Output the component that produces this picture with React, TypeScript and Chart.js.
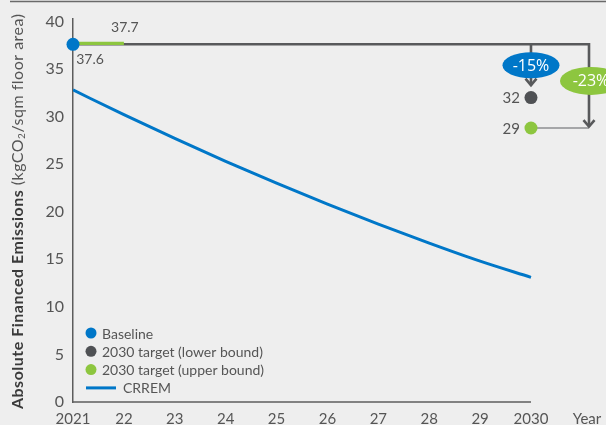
import React, { useEffect, useRef } from "react";
import { Chart, registerables } from "chart.js";

Chart.register(...registerables);

// ---- data ----
const years = [2021, 2022, 2023, 2024, 2025, 2026, 2027, 2028, 2029, 2030];
const crremValues = [32.8, 30.2, 27.7, 25.3, 23.0, 20.8, 18.7, 16.7, 14.8, 13.1];
const baselineYear = 2021;
const baselineValue = 37.6;
const baselineAltValue = 37.7;
const baselineAltEndYear = 2022;
const targetYear = 2030;
const lowerBoundTarget = 32;
const upperBoundTarget = 28.8;
const valueLabels = ["37.7", "37.6", "32", "29"];
const reductionLabels = ["-15%", "-23%"];
const yTickValues = [0, 5, 10, 15, 20, 25, 30, 35, 40];
const legendLabels = ["Baseline", "2030 target (lower bound)", "2030 target (upper bound)", "CRREM"];
const xAxisLabel = "Year";
const yTitleBold = "Absolute Financed Emissions ";
const yTitleA = "(kgCO";
const yTitleSub = "2";
const yTitleB = "/sqm floor area)";

// ---- style ----
const BLUE = "#0077c8";
const GREEN = "#8dc63f";
const DARK = "#4f5154";
const CONNECT = "#58595b";
const THIN = "#8d8e90";
const TEXT = "#555555";
const AXIS = "#5c5c5c";
const FONT = "Lato, 'Open Sans', sans-serif";
const bracketX = 2031.14;

const overlayPlugin = {
  id: "overlay",
  beforeDatasetsDraw(chart: any) {
    const ctx = chart.ctx;
    const xs = chart.scales.x;
    const area = chart.chartArea;
    ctx.save();
    ctx.strokeStyle = AXIS;
    ctx.lineWidth = 1.5;
    ctx.beginPath();
    ctx.moveTo(area.left, area.bottom);
    ctx.lineTo(xs.getPixelForValue(years[years.length - 1]), area.bottom);
    ctx.stroke();
    ctx.restore();
  },
  afterDatasetsDraw(chart: any) {
    const ctx = chart.ctx;
    const xs = chart.scales.x;
    const ys = chart.scales.y;
    chart.data.datasets.forEach((ds: any, i: number) => {
      if (!ds.arrowEnd) return;
      const meta = chart.getDatasetMeta(i);
      const pt = meta.data[meta.data.length - 1];
      ctx.save();
      ctx.strokeStyle = ds.borderColor;
      ctx.lineWidth = 2.6;
      ctx.lineJoin = "miter";
      ctx.beginPath();
      ctx.moveTo(pt.x - 5.5, pt.y - 6.5);
      ctx.lineTo(pt.x, pt.y);
      ctx.lineTo(pt.x + 5.5, pt.y - 6.5);
      ctx.stroke();
      ctx.restore();
    });

    ctx.save();
    ctx.fillStyle = TEXT;
    ctx.textBaseline = "middle";
    ctx.font = `14px ${FONT}`;
    ctx.textAlign = "center";
    ctx.fillText(valueLabels[0], xs.getPixelForValue(baselineAltEndYear) + 1, ys.getPixelForValue(baselineAltValue) - 16);
    ctx.fillText(valueLabels[1], xs.getPixelForValue(baselineYear) + 17, ys.getPixelForValue(baselineValue) + 15);
    ctx.font = `15px ${FONT}`;
    ctx.textAlign = "right";
    ctx.fillText(valueLabels[2], xs.getPixelForValue(targetYear) - 11, ys.getPixelForValue(lowerBoundTarget) + 1);
    ctx.fillText(valueLabels[3], xs.getPixelForValue(targetYear) - 11, ys.getPixelForValue(upperBoundTarget) + 1);

    const ell = (cx: number, cy: number, rx: number, ry: number, color: string, text: string) => {
      ctx.beginPath();
      ctx.ellipse(cx, cy, rx, ry, 0, 0, Math.PI * 2);
      ctx.fillStyle = color;
      ctx.fill();
      ctx.fillStyle = "#ffffff";
      ctx.font = `16px 'Open Sans', sans-serif`;
      ctx.textAlign = "center";
      ctx.fillText(text, cx, cy + 1);
    };
    ell(xs.getPixelForValue(targetYear), ys.getPixelForValue(35.4), 28.5, 13, BLUE, reductionLabels[0]);
    ell(xs.getPixelForValue(bracketX) + 2, ys.getPixelForValue(33.75), 31, 14, GREEN, reductionLabels[1]);
    ctx.restore();
  },
  afterDraw(chart: any) {
    const ctx = chart.ctx;
    const area = chart.chartArea;
    const xs = chart.scales.x;
    ctx.save();
    ctx.strokeStyle = "#6a6a6a";
    ctx.lineWidth = 1.5;
    ctx.beginPath();
    ctx.moveTo(10, 1.5);
    ctx.lineTo(chart.width, 1.5);
    ctx.stroke();

    ctx.fillStyle = TEXT;
    ctx.font = `15px ${FONT}`;
    ctx.textAlign = "center";
    ctx.textBaseline = "middle";
    ctx.fillText(xAxisLabel, xs.getPixelForValue(bracketX) - 2, area.bottom + 17);

    const lx = area.left + 18;
    const ly = area.bottom - 69;
    const step = 18.3;
    const colors = [BLUE, DARK, GREEN];
    ctx.font = `14px ${FONT}`;
    ctx.textAlign = "left";
    legendLabels.forEach((lab, i) => {
      const y = ly + i * step;
      if (i < 3) {
        ctx.beginPath();
        ctx.arc(lx, y, 5.5, 0, Math.PI * 2);
        ctx.fillStyle = colors[i];
        ctx.fill();
        ctx.fillStyle = TEXT;
        ctx.fillText(lab, lx + 11, y + 1);
      } else {
        ctx.strokeStyle = BLUE;
        ctx.lineWidth = 3;
        ctx.beginPath();
        ctx.moveTo(lx - 5, y);
        ctx.lineTo(lx + 25, y);
        ctx.stroke();
        ctx.fillStyle = TEXT;
        ctx.fillText(lab, lx + 32, y + 1);
      }
    });

    ctx.translate(18, (area.top + area.bottom) / 2 + 1);
    ctx.rotate(-Math.PI / 2);
    ctx.textBaseline = "middle";
    ctx.textAlign = "left";
    try { (ctx as any).letterSpacing = "0.5px"; } catch (e) {}
    const bold = `bold 16px ${FONT}`;
    const norm = `16px ${FONT}`;
    const sub = `10px ${FONT}`;
    ctx.font = bold;
    const w1 = ctx.measureText(yTitleBold).width;
    ctx.font = norm;
    const w2 = ctx.measureText(yTitleA).width;
    const w4 = ctx.measureText(yTitleB).width;
    ctx.font = sub;
    const w3 = ctx.measureText(yTitleSub).width;
    let x = -(w1 + w2 + w3 + w4) / 2;
    ctx.fillStyle = "#3a3a3a";
    ctx.font = bold;
    ctx.fillText(yTitleBold, x, 0);
    x += w1;
    ctx.fillStyle = TEXT;
    ctx.font = norm;
    ctx.fillText(yTitleA, x, 0);
    x += w2;
    ctx.font = sub;
    ctx.fillText(yTitleSub, x, 4);
    x += w3;
    ctx.font = norm;
    ctx.fillText(yTitleB, x, 0);
    ctx.restore();
  },
};

export default function App() {
  const ref = useRef<HTMLCanvasElement>(null);
  useEffect(() => {
    if (!ref.current) return;
    const chart = new Chart(ref.current, {
      type: "line",
      data: {
        datasets: [
          {
            label: legendLabels[0],
            data: [{ x: baselineYear, y: baselineValue }],
            showLine: false,
            pointRadius: 6.5,
            pointBorderWidth: 0,
            pointBackgroundColor: BLUE,
            clip: false,
          },
          {
            label: legendLabels[1],
            data: [{ x: targetYear, y: lowerBoundTarget }],
            showLine: false,
            pointRadius: 6.5,
            pointBorderWidth: 0,
            pointBackgroundColor: DARK,
            clip: false,
          },
          {
            label: legendLabels[2],
            data: [{ x: targetYear, y: upperBoundTarget }],
            showLine: false,
            pointRadius: 6.5,
            pointBorderWidth: 0,
            pointBackgroundColor: GREEN,
            clip: false,
          },
          {
            label: "alt baseline",
            data: [
              { x: baselineYear, y: baselineAltValue },
              { x: baselineAltEndYear, y: baselineAltValue },
            ],
            borderColor: GREEN,
            borderWidth: 3.2,
            pointRadius: 0,
            clip: false,
          },
          {
            label: "upper link",
            data: [
              { x: targetYear, y: upperBoundTarget },
              { x: bracketX, y: upperBoundTarget },
            ],
            borderColor: THIN,
            borderWidth: 1.5,
            pointRadius: 0,
            clip: false,
          },
          {
            label: "lower branch",
            data: [
              { x: targetYear, y: baselineValue },
              { x: targetYear, y: 33.3 },
            ],
            borderColor: CONNECT,
            borderWidth: 2.6,
            pointRadius: 0,
            clip: false,
            arrowEnd: true,
          } as any,
          {
            label: "bracket",
            data: [
              { x: baselineYear, y: baselineValue },
              { x: bracketX, y: baselineValue },
              { x: bracketX, y: upperBoundTarget + 0.15 },
            ],
            borderColor: CONNECT,
            borderWidth: 2.6,
            borderJoinStyle: "miter",
            pointRadius: 0,
            clip: false,
            arrowEnd: true,
          } as any,
          {
            label: legendLabels[3],
            data: years.map((yr, i) => ({ x: yr, y: crremValues[i] })),
            borderColor: BLUE,
            borderWidth: 3,
            pointRadius: 0,
            cubicInterpolationMode: "monotone",
          },
        ],
      },
      options: {
        animation: false,
        responsive: false,
        events: [],
        layout: { padding: { top: 18, right: 17, left: 0, bottom: 0 } },
        plugins: { legend: { display: false }, tooltip: { enabled: false } },
        scales: {
          x: {
            type: "linear",
            min: years[0],
            max: bracketX,
            grid: { display: false, drawTicks: false },
            border: { display: false },
            afterBuildTicks: (s: any) => {
              s.ticks = years.map((v) => ({ value: v }));
            },
            afterFit: (s: any) => {
              s.height = 23;
            },
            ticks: {
              color: TEXT,
              padding: 8,
              maxRotation: 0,
              autoSkip: false,
              font: { family: FONT, size: 15 },
              callback: (v: any) => {
                const n = Number(v);
                return n === years[0] || n === years[years.length - 1] ? String(n) : String(n).slice(2);
              },
            },
          },
          y: {
            type: "linear",
            min: 0,
            max: 40.3,
            grid: { display: false, drawTicks: false },
            border: { display: true, color: AXIS, width: 1.5 },
            afterBuildTicks: (s: any) => {
              s.ticks = yTickValues.map((v) => ({ value: v }));
            },
            afterFit: (s: any) => {
              s.width = 73;
            },
            ticks: {
              color: TEXT,
              padding: 9,
              font: { family: FONT, size: 16 },
            },
          },
        },
      },
      plugins: [overlayPlugin],
    });
    return () => chart.destroy();
  }, []);
  return (
    <div style={{ position: "fixed", left: 0, top: 0, width: 606, height: 425, background: "#eeeeee", overflow: "hidden" }}>
      <canvas ref={ref} width={606} height={425} style={{ display: "block" }} />
    </div>
  );
}
